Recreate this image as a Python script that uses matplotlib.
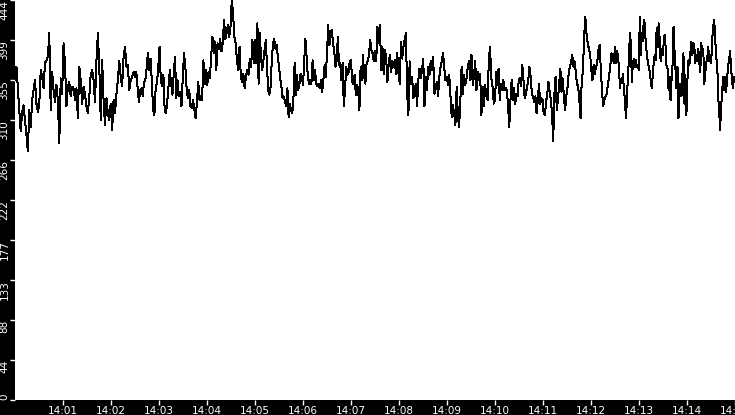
import matplotlib
matplotlib.use('Agg')
import matplotlib.pyplot as plt
import matplotlib.dates as mdates
import numpy as np
import pandas as pd

# Waarden per blok van 2.5 minuut
seg_starts = ['14:00:00', '14:02:30', '14:05:00', '14:07:30', '14:10:00', '14:12:30']
seg_len = 150  # seconden per blok

seg1 = [355, 370, 346, 322, 298, 320, 327, 311, 294, 276, 322, 303, 333, 344, 355, 329, 320, 329,
        366, 359, 346, 374, 377, 381, 407, 322, 364, 344, 331, 350, 333, 285, 357, 340, 396, 374,
        326, 348, 353, 337, 348, 346, 333, 346, 313, 370, 355, 329, 348, 339, 326, 318, 337, 361,
        366, 355, 331, 376, 407, 370, 311, 377, 333, 305, 335, 318, 311, 329, 300, 333, 318, 339,
        355, 376, 359, 348, 381, 392, 370, 372, 344, 355, 359, 364]
seg2 = [359, 364, 348, 331, 344, 346, 337, 353, 355, 368, 385, 366, 379, 355, 322, 316, 346, 353,
        368, 392, 355, 348, 361, 322, 318, 331, 348, 366, 351, 339, 361, 381, 335, 355, 337, 342,
        326, 357, 385, 370, 346, 335, 344, 326, 324, 333, 322, 313, 331, 353, 333, 337, 333, 377,
        351, 366, 350, 364, 357, 381, 403, 385, 398, 366, 396, 390, 401, 387, 396, 422, 401, 407,
        416, 403, 414, 444, 429, 403, 396, 377, 366, 392, 359, 353, 362, 346, 359, 366, 361, 379,
        370, 400, 374]
seg3 = [400, 374, 418, 351, 407, 381, 366, 377, 388, 400, 370, 344, 339, 348, 377, 396, 401, 390,
        394, 381, 370, 357, 348, 335, 337, 331, 326, 346, 314, 329, 322, 318, 333, 374, 339, 361,
        344, 350, 362, 359, 350, 376, 401, 381, 359, 351, 355, 351, 377, 355, 366, 351, 348, 351,
        346, 355, 342, 355, 372, 359, 385, 416, 394, 407, 411, 396, 388, 370, 376, 403, 372, 374,
        355, 374, 326, 344, 370, 361, 364, 376, 377, 353, 351, 361, 339, 350, 344, 322, 370, 355,
        383, 359, 351, 374, 376, 383, 400, 388, 385, 376]
seg4 = [388, 376, 414, 396, 416, 366, 392, 362, 388, 381, 353, 372, 383, 364, 376, 370, 377, 362,
        385, 362, 351, 398, 379, 392, 400, 407, 340, 316, 376, 351, 359, 335, 344, 351, 326, 355,
        368, 357, 366, 379, 326, 359, 344, 370, 361, 376, 366, 381, 340, 348, 353, 337, 359, 370,
        376, 385, 368, 355, 359, 350, 361, 337, 314, 327, 318, 305, 348, 316, 303, 333, 370, 340,
        361, 350, 357, 370, 376, 355, 383, 350, 359, 376, 344, 364, 355, 362, 316, 348, 326, 350,
        337, 333, 377, 392, 357, 348, 329]
seg5 = [333, 364, 350, 368, 333, 351, 344, 355, 344, 346, 344, 326, 303, 333, 355, 333, 346, 329,
        340, 337, 355, 357, 348, 372, 355, 335, 340, 348, 355, 370, 359, 340, 337, 331, 337, 318,
        333, 351, 329, 335, 333, 318, 316, 331, 340, 353, 342, 333, 318, 287, 340, 359, 322, 333,
        351, 368, 342, 357, 337, 322, 337, 346, 362, 370, 374, 383, 370, 376, 364, 351, 348, 333,
        313, 355, 364, 403, 425, 407, 396, 390, 385, 368, 355, 372, 362, 370, 374, 388, 394, 370,
        344, 326, 333, 337, 340, 350, 359, 370, 385, 381, 374]
seg6 = [392, 374, 388, 381, 370, 346, 355, 353, 362, 344, 333, 313, 333, 359, 377, 407, 396, 353,
        374, 379, 370, 377, 370, 372, 366, 425, 383, 407, 398, 422, 418, 396, 385, 376, 370, 364,
        355, 346, 359, 374, 383, 377, 413, 392, 418, 401, 376, 390, 383, 394, 405, 392, 370, 368,
        344, 359, 333, 355, 372, 414, 388, 366, 346, 370, 313, 348, 351, 337, 362, 385, 329, 361,
        316, 355, 377, 372, 385, 398, 383, 396, 392, 374, 383, 376, 390, 374, 364, 396, 383, 390,
        351, 362, 374, 379, 392, 376, 383, 374, 400, 414, 422, 403, 379, 377, 337, 322, 300, 326,
        340, 359, 344, 359, 342, 357, 370, 377, 387, 370, 355, 346, 359]
segments = [seg1, seg2, seg3, seg4, seg5, seg6]

y_max = 444
x_start = '14:00'
x_end = '14:15'
day = '2024-01-01 '

# Tijdstempels per blok gelijk verdeeld
times = []
values = []
for start, seg in zip(seg_starts, segments):
    t0 = pd.Timestamp(day + start)
    n = len(seg)
    times.extend(t0 + pd.to_timedelta(np.arange(n) * seg_len / n, unit='s'))
    values.extend(seg)

fig = plt.figure(figsize=(7.35, 4.15), dpi=100, facecolor='black')
ax = fig.add_axes((15 / 735, 15 / 415, 720 / 735, 400 / 415))
ax.set_facecolor('white')
for s in ax.spines.values():
    s.set_visible(False)

ax.plot(times, values, color='black', linewidth=0.72, antialiased=False)

ax.set_xlim(pd.Timestamp(day + x_start), pd.Timestamp(day + x_end))
ax.set_ylim(0, y_max)

# y-as: 11 gelijke stappen, afgekapt op gehele getallen
yticks = np.linspace(0, y_max, 11)
ax.set_yticks(yticks)
ax.set_yticklabels([str(int(v)) for v in yticks])
for i, lbl in enumerate(ax.get_yticklabels()):
    lbl.set_rotation(90)
    lbl.set_va('bottom' if i == 0 else 'top')

xticks = pd.date_range(day + '14:01', day + x_end, freq='1min')
ax.set_xticks(xticks)
ax.xaxis.set_major_formatter(mdates.DateFormatter('%H:%M'))

ax.tick_params(axis='both', colors='white', labelcolor='white', labelsize=7.5,
               length=3.5, width=1, direction='out', pad=0.5)

fig.savefig('out.png', dpi=100, facecolor='black')
